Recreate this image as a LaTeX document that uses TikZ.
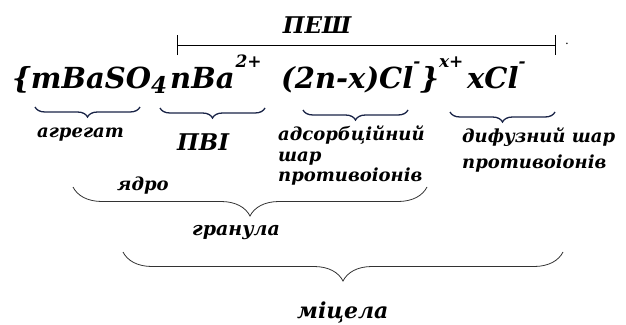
\documentclass[tikz,border=0pt]{standalone}
\usepackage{fontspec}
\setmainfont{DejaVu Serif}
\usetikzlibrary{decorations.pathreplacing,arrows.meta}

\newcommand{\ionup}[1]{\raisebox{0.7em}{\fontsize{17}{17}\selectfont #1}}
\newcommand{\iondn}[1]{\raisebox{-0.18em}{\fontsize{23}{23}\selectfont #1}}

\begin{document}
\begin{tikzpicture}[x=1pt, y=-1pt,
  form/.style={inner sep=0pt, anchor=base west, font=\bfseries\itshape\fontsize{29}{30}\selectfont},
  lbl/.style={inner sep=0pt, align=left, font=\bfseries\itshape\fontsize{18}{20.5}\selectfont},
  big/.style={font=\bfseries\itshape\fontsize{23}{24}\selectfont},
  brc/.style={decorate, decoration={brace, mirror, amplitude=#1}},
  smallbrc/.style={brc=10pt, line width=1.3pt, draw={rgb,255:red,25;green,35;blue,70}},
  bigbrc/.style={brc=29pt, line width=0.8pt, draw=black!80}
]
\useasboundingbox (0,0) rectangle (626,324);
% formula
\node[form] (agg) at (12,88) {\{mBaSO\iondn{4}};
\node[form] (pvi) at (170,88) {nBa\kern1pt\ionup{2+}};
\node[form] (ads) at (281,88) {(2n-x)Cl\ionup{-}\}\ionup{x+}};
\node[form] (dif) at (467,88) {xCl\ionup{-}};
% span of the double layer
\coordinate (pl) at (177,45);
\coordinate (pr) at (556,45);
\draw[line width=0.9pt, {Bar[width=20pt]}-{Bar[width=20pt]}] (pl) -- (pr);
\node[lbl, big, anchor=base] (pesh) at (317,33) {ПЕШ};
\node[inner sep=0pt, font=\fontsize{12}{12}\selectfont] (dot) at (567,44) {.};
% small braces
\draw[smallbrc] (35,107) -- (140,107);
\draw[smallbrc] (160,108) -- (265,108);
\draw[smallbrc] (303,110) -- (408,110);
\draw[smallbrc] (450,112) -- (555,112);
\node[lbl, anchor=base west] (aggl) at (37,137) {агрегат};
\node[lbl, big, anchor=base west] (pvil) at (177,150) {ПВІ};
\node[lbl, anchor=north west] (adsl) at (278,126) {адсорбційний\\шар\\противоіонів};
\node[lbl, anchor=north west, font=\bfseries\itshape\fontsize{18}{26}\selectfont] (difl) at (462,128) {дифузний шар\\противоіонів};
% big braces
\node[lbl, anchor=base west] (core) at (117,190) {ядро};
\draw[bigbrc] (73,187) -- (427,187);
\node[lbl, anchor=base west, font=\bfseries\itshape\fontsize{19}{20}\selectfont] (gran) at (192,235) {гранула};
\draw[bigbrc] (123,252) -- (563,252);
\node[lbl, anchor=base west, font=\bfseries\itshape\fontsize{22}{24}\selectfont] (mic) at (297,318) {міцела};
\end{tikzpicture}
\end{document}
